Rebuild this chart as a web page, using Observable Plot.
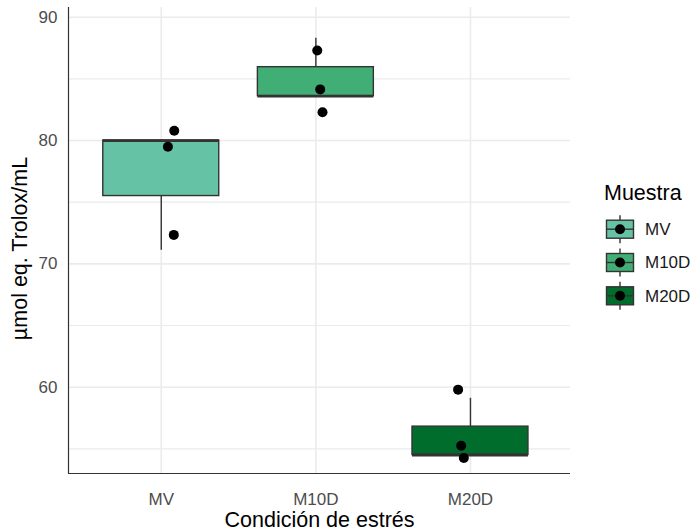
<!DOCTYPE html>
<html>
<head>
<meta charset="utf-8">
<script src="https://cdn.jsdelivr.net/npm/d3@7"></script>
<script src="https://cdn.jsdelivr.net/npm/@observablehq/plot@0.6"></script>
<style>
  html, body { margin: 0; padding: 0; background: #fff; }
  #wrap { position: relative; width: 697px; height: 532px; font-family: "Liberation Sans", Arial, sans-serif; }
  #legend { position: absolute; left: 580px; top: 170px; }
</style>
</head>
<body>
<div id="wrap"></div>
<script>
// ---- data ----
const categories = ["MV", "M10D", "M20D"];
const colors = ["#66C2A4", "#41AE76", "#006D2C"];
// box statistics per category
const boxLow  = [71.1, 83.6, 54.5];
const boxQ1   = [75.5, 83.6, 54.5];
const boxMed  = [80.0, 83.6, 54.5];
const boxQ3   = [80.0, 85.95, 56.8];
const boxHigh = [80.0, 88.3, 59.1];
// jittered replicate points
const pointGroup  = ["MV", "MV", "MV", "M10D", "M10D", "M10D", "M20D", "M20D", "M20D"];
const pointValue  = [80.8, 79.5, 72.35, 87.3, 84.15, 82.3, 59.8, 55.25, 54.25];
const pointJitter = [0.084, 0.043, 0.081, 0.009, 0.028, 0.043, -0.080, -0.060, -0.043];
// axis ticks
const yMajor = [60, 70, 80, 90];
const yMinor = [55, 65, 75, 85];
const xLabel = "Condición de estrés";
const yLabel = "µmol eq. Trolox/mL";
const legendTitle = "Muestra";

// ---- build tables ----
const boxes = categories.map((c, i) => ({
  cat: c, pos: i + 1, color: colors[i],
  low: boxLow[i], q1: boxQ1[i], med: boxMed[i], q3: boxQ3[i], high: boxHigh[i]
}));
const points = pointGroup.map((g, i) => ({
  pos: categories.indexOf(g) + 1 + pointJitter[i], value: pointValue[i]
}));
const half = 0.375;
const yDomain = [53.0, 90.79];
const xDomain = [0.4, 3.647];
const font = "'Liberation Sans', Arial, sans-serif";

const chart = Plot.plot({
  width: 697,
  height: 532,
  marginLeft: 68,
  marginRight: 127,
  marginTop: 7,
  marginBottom: 59,
  style: { fontFamily: font, background: "white", overflow: "visible" },
  x: { type: "linear", domain: xDomain, axis: null },
  y: { domain: yDomain, axis: null },
  marks: [
    Plot.ruleY(yMinor, { stroke: "#EBEBEB", strokeWidth: 1.2 }),
    Plot.ruleY(yMajor, { stroke: "#EBEBEB", strokeWidth: 1.6 }),
    Plot.ruleX(boxes, { x: "pos", stroke: "#EBEBEB", strokeWidth: 1.6 }),
    // whiskers
    Plot.ruleX(boxes, { x: "pos", y1: "low", y2: "q1", stroke: "#333333", strokeWidth: 1.4 }),
    Plot.ruleX(boxes, { x: "pos", y1: "q3", y2: "high", stroke: "#333333", strokeWidth: 1.4 }),
    // boxes
    Plot.rectY(boxes, {
      x1: d => d.pos - half, x2: d => d.pos + half, y1: "q1", y2: "q3",
      fill: "color", stroke: "#333333", strokeWidth: 1.4
    }),
    // medians
    Plot.ruleY(boxes, {
      y: "med", x1: d => d.pos - half, x2: d => d.pos + half,
      stroke: "#333333", strokeWidth: 2.8
    }),
    // points
    Plot.dot(points, { x: "pos", y: "value", r: 5, fill: "black", stroke: "none" }),
    // axis lines
    Plot.ruleY([yDomain[0]], { stroke: "#333333", strokeWidth: 1.2 }),
    Plot.ruleX([xDomain[0]], { stroke: "#333333", strokeWidth: 1.2 }),
    // tick labels
    Plot.axisY(yMajor, { tickSize: 0, tickPadding: 11, fontSize: 17, fill: "#4D4D4D", label: null }),
    Plot.axisX(categories.map((c, i) => i + 1), {
      tickSize: 0, tickPadding: 19, fontSize: 17, fill: "#4D4D4D", label: null,
      tickFormat: v => categories[v - 1]
    }),
    // axis titles
    Plot.text([xLabel], { frameAnchor: "bottom", lineAnchor: "middle", textAnchor: "middle", dy: 47, fontSize: 21.5, fill: "black" }),
    Plot.text([yLabel], { frameAnchor: "left", textAnchor: "middle", lineAnchor: "middle", rotate: -90, dx: -48, dy: 8, fontSize: 21.5, fill: "black" })
  ]
});
document.getElementById("wrap").appendChild(chart);

// ---- legend ----
const leg = d3.select("#wrap").append("svg")
  .attr("id", "legend").attr("width", 117).attr("height", 150)
  .style("font-family", font);
leg.append("text").attr("x", 24).attr("y", 30)
  .attr("font-size", 21.5).attr("fill", "black").text(legendTitle);
const rows = leg.selectAll("g.row").data(categories).join("g")
  .attr("class", "row")
  .attr("transform", (d, i) => `translate(40, ${59.2 + i * 33.3})`);
rows.append("line").attr("x1", 0).attr("x2", 0).attr("y1", -14).attr("y2", 14)
  .attr("stroke", "#333").attr("stroke-width", 1.4);
rows.append("rect").attr("x", -13.5).attr("y", -9).attr("width", 27).attr("height", 18)
  .attr("fill", (d, i) => colors[i]).attr("stroke", "#333").attr("stroke-width", 1.4);
rows.append("line").attr("x1", -13.5).attr("x2", 13.5).attr("y1", 0).attr("y2", 0)
  .attr("stroke", "#333").attr("stroke-width", 1.4);
rows.append("circle").attr("r", 5).attr("fill", "black");
rows.append("text").attr("x", 25).attr("y", 0).attr("dy", "0.35em")
  .attr("font-size", 17).attr("fill", "#1a1a1a").text(d => d);
</script>
</body>
</html>
